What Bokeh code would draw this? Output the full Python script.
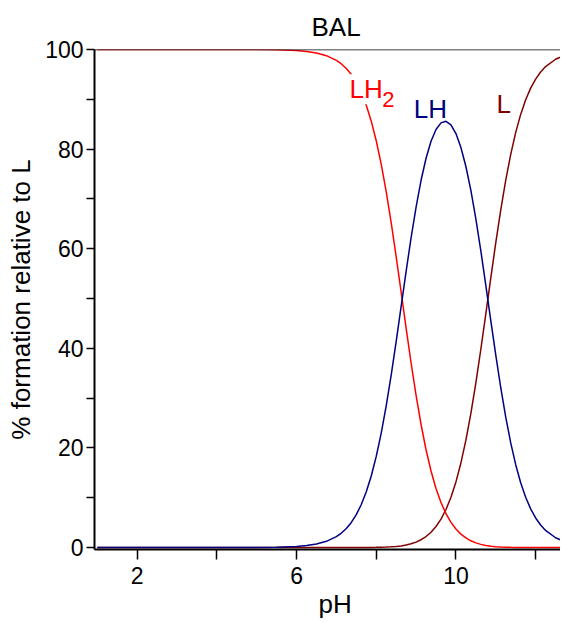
from bokeh.plotting import figure
from bokeh.models import Range1d, FixedTicker, LinearAxis, Label, Title
from bokeh.embed import file_html
from bokeh.resources import INLINE

# pH values
ph = [1, 2, 3, 4, 5, 5.5, 6, 6.25, 6.5, 6.75, 7, 7.125, 7.25, 7.375, 7.5, 7.625, 7.75, 7.875,
      8, 8.125, 8.25, 8.375, 8.5, 8.625, 8.75, 8.875, 9, 9.125, 9.25, 9.375, 9.5, 9.625,
      9.75, 9.875, 10, 10.125, 10.25, 10.375, 10.5, 10.625, 10.75, 10.875, 11, 11.125,
      11.25, 11.375, 11.5, 11.625, 11.75, 11.875, 12, 12.125, 12.25, 12.5, 12.75, 13]

# % LH2
lh2 = [100, 100, 100, 100, 99.98, 99.93, 99.78, 99.60, 99.30, 98.76, 97.81, 97.10, 96.17,
       94.96, 93.39, 91.37, 88.81, 85.61, 81.68, 76.97, 71.47, 65.24, 58.43, 51.27, 44.05,
       37.05, 30.54, 24.70, 19.63, 15.36, 11.86, 9.03, 6.80, 5.05, 3.71, 2.69, 1.92, 1.35,
       0.93, 0.63, 0.42, 0.27, 0.17, 0.11, 0.07, 0.04, 0.02, 0.01, 0.01, 0, 0, 0, 0, 0, 0, 0]

# % LH
lh = [0, 0, 0, 0, 0.02, 0.07, 0.22, 0.40, 0.70, 1.24, 2.19, 2.90, 3.83, 5.04, 6.61, 8.63,
      11.18, 14.37, 18.29, 22.98, 28.45, 34.63, 41.36, 48.40, 55.46, 62.21, 68.37, 73.74,
      78.16, 81.57, 83.94, 85.27, 85.58, 84.86, 83.11, 80.33, 76.51, 71.70, 65.99, 59.56,
      52.65, 45.57, 38.62, 32.08, 26.17, 21.01, 16.63, 13.01, 10.09, 7.76, 5.93, 4.52, 3.43,
      1.96, 1.11, 0.63]

# % L
l_ = [0, 0, 0, 0, 0, 0, 0, 0, 0, 0, 0, 0, 0, 0, 0, 0.01, 0.01, 0.02, 0.03, 0.05, 0.08, 0.13,
      0.21, 0.32, 0.49, 0.74, 1.08, 1.56, 2.20, 3.07, 4.21, 5.70, 7.63, 10.09, 13.17, 16.98,
      21.56, 26.95, 33.08, 39.81, 46.93, 54.16, 61.21, 67.81, 73.76, 78.95, 83.35, 86.97,
      89.90, 92.24, 94.06, 95.48, 96.57, 98.04, 98.89, 99.37]

x_ticks = [2, 6, 10]
x_minor = [4, 8, 12]
y_ticks = [0, 20, 40, 60, 80, 100]
y_minor = [10, 30, 50, 70, 90]

FONT = "Liberation Sans"
TICK_FS = "23px"
LABEL_FS = "26px"

p = figure(width=560, height=618, output_backend="svg", toolbar_location=None,
           x_range=Range1d(0.93, 12.624), y_range=Range1d(-0.4, 100),
           min_border_left=94, min_border_right=0, min_border_top=49, min_border_bottom=66)
p.outline_line_color = None
p.xgrid.grid_line_color = None
p.ygrid.grid_line_color = None
p.background_fill_color = "white"
p.border_fill_color = "white"

p.title.text = "BAL"
p.title.text_font = FONT
p.title.text_font_size = LABEL_FS
p.title.text_font_style = "normal"
p.title.text_color = "black"
p.title.align = "left"
p.title.offset = 217
p.title.standoff = 16

for ax in (p.xaxis[0], p.yaxis[0]):
    ax.axis_line_width = 2
    ax.axis_line_color = "black"
    ax.major_tick_line_width = 1.5
    ax.minor_tick_line_width = 1.5
    ax.major_tick_in = 0
    ax.minor_tick_in = 0
    ax.major_label_text_font = FONT
    ax.major_label_text_font_size = TICK_FS
    ax.major_label_text_color = "black"
    ax.axis_label_text_font = FONT
    ax.axis_label_text_font_size = LABEL_FS
    ax.axis_label_text_font_style = "normal"
    ax.axis_label_text_color = "black"

p.xaxis[0].major_tick_out = 10
p.xaxis[0].minor_tick_out = 10
p.xaxis[0].major_label_standoff = 7
p.yaxis[0].major_tick_out = 8
p.yaxis[0].minor_tick_out = 8
p.yaxis[0].major_label_standoff = 3

p.xaxis[0].ticker = FixedTicker(ticks=x_ticks, minor_ticks=x_minor)
p.yaxis[0].ticker = FixedTicker(ticks=y_ticks, minor_ticks=y_minor)
p.yaxis[0].axis_label = "% formation relative to L"
p.yaxis[0].axis_label_standoff = 6

xlab = Title(text="pH", text_font=FONT, text_font_size=LABEL_FS, text_font_style="normal",
             text_color="black", align="left", offset=224, standoff=0)
p.add_layout(xlab, "below")

top = LinearAxis(ticker=FixedTicker(ticks=[]), major_tick_line_color=None,
                 minor_tick_line_color=None, major_label_text_font_size="0px",
                 major_label_standoff=0, axis_label_standoff=0,
                 axis_line_color="black", axis_line_width=1.5, level="glyph")
p.add_layout(top, "above")

p.line(ph, l_, line_color="#800000", line_width=1.5)
p.line(ph, lh2, line_color="#ff0000", line_width=1.5)
p.line(ph, lh, line_color="#000080", line_width=1.5)

p.add_layout(Label(x=7.33, y=89.0, text="LH", text_color="#ff0000", text_font=FONT,
                   text_font_size=LABEL_FS, background_fill_color="white"))
p.add_layout(Label(x=8.15, y=88.4, text="2", text_color="#ff0000", text_font=FONT,
                   text_font_size="22px", background_fill_color="white"))
p.add_layout(Label(x=8.94, y=85.0, text="LH", text_color="#000080", text_font=FONT,
                   text_font_size=LABEL_FS))
p.add_layout(Label(x=11.02, y=86.0, text="L", text_color="#800000", text_font=FONT,
                   text_font_size=LABEL_FS))

open("out.html", "w").write(file_html(p, INLINE))
